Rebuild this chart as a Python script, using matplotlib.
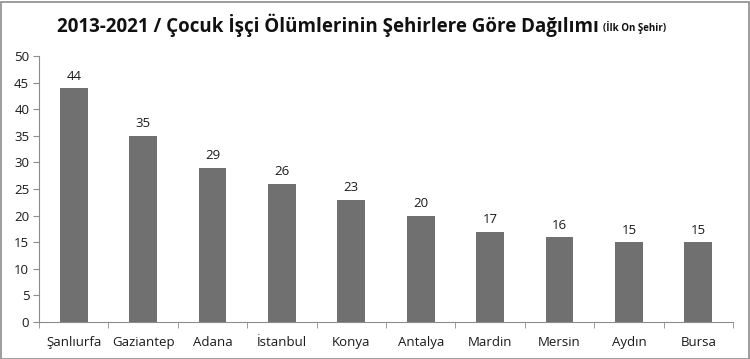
import matplotlib
matplotlib.use("Agg")
import matplotlib.pyplot as plt
from matplotlib.patches import Rectangle

cities = ["Şanlıurfa", "Gaziantep", "Adana", "İstanbul", "Konya", "Antalya", "Mardin", "Mersin", "Aydın", "Bursa"]
values = [44, 35, 29, 26, 23, 20, 17, 16, 15, 15]
title_main = "2013-2021 / Çocuk İşçi Ölümlerinin Şehirlere Göre Dağılımı"
title_sub = "(İlk On Şehir)"

plt.rcParams['font.family'] = ['Open Sans', 'DejaVu Sans']

W, H = 750, 359
fig = plt.figure(figsize=(W/100, H/100), dpi=100)
fig.patches.append(Rectangle((0.5/W, 0.5/H), 1 - 2/W, 1 - 2/H, transform=fig.transFigure,
                             fill=False, edgecolor="#8c8c8c", linewidth=1.2))

ax = fig.add_axes([39/W, 1 - 322/H, (733-39)/W, (322-56)/H])
x = list(range(len(cities)))
bars = ax.bar(x, values, width=0.4, color="#707070", zorder=2)
for xi, v in zip(x, values):
    ax.text(xi, v + 1.0, str(v), ha="center", va="bottom", fontsize=9.5, color="#1a1a1a")

ax.set_xlim(-0.5, len(cities) - 0.5)
ax.set_ylim(0, 50)
ax.set_yticks(range(0, 51, 5))
ax.set_xticks(x)
ax.set_xticklabels(cities, fontsize=9.5, color="#1a1a1a")
ax.tick_params(axis="x", length=0, pad=10)
ax.set_xticks([i + 0.5 for i in range(-1, len(cities))], minor=True)
ax.tick_params(axis="x", which="minor", length=4, direction="out", color="#8c8c8c")
ax.tick_params(axis="y", length=4, direction="out", color="#8c8c8c", labelsize=9.5, labelcolor="#1a1a1a", pad=3)
for s in ["top", "right"]:
    ax.spines[s].set_visible(False)
for s in ["left", "bottom"]:
    ax.spines[s].set_color("#8c8c8c")
    ax.spines[s].set_linewidth(0.8)

t = fig.text(57/W, 1 - 25/H, title_main, fontsize=13.5, fontweight="bold", ha="left", va="center", color="#111111")
fig.canvas.draw()
bb = t.get_window_extent()
fig.text((bb.x1 + 4)/W, 1 - 27/H, title_sub, fontsize=7, fontweight="bold", ha="left", va="center", color="#111111")

fig.savefig("out.png", dpi=100)
